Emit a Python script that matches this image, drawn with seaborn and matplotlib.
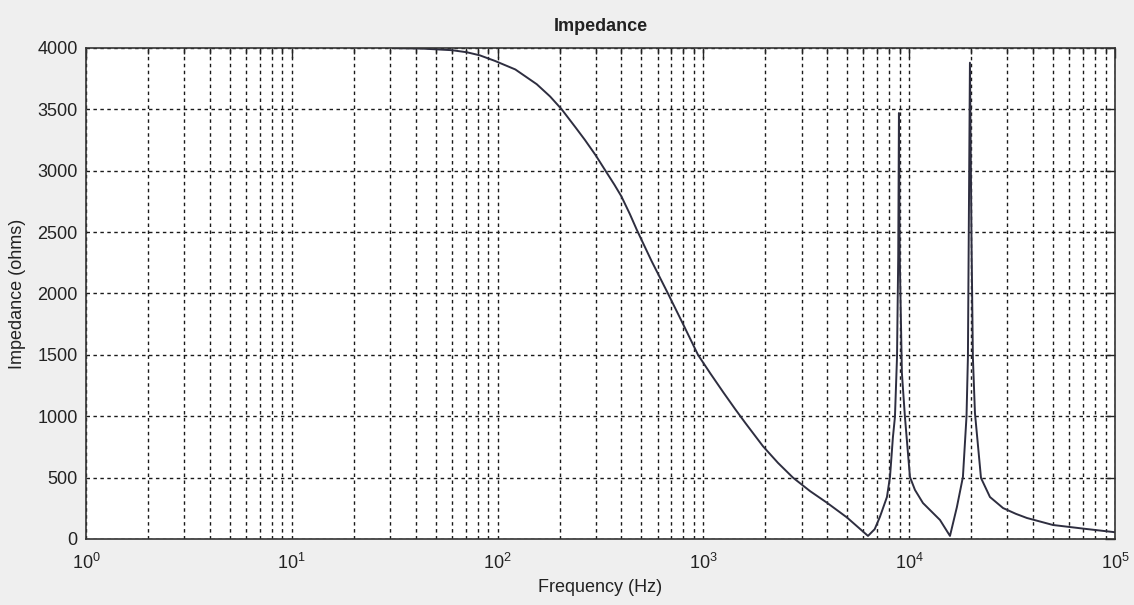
import numpy as np
import pandas as pd
import matplotlib
matplotlib.use("Agg")
import matplotlib.pyplot as plt
from matplotlib.ticker import LogLocator, LogFormatterSciNotation, NullFormatter, MultipleLocator
import seaborn as sns

# Impedance magnitude versus frequency
freq_hz = [
    31.6, 43, 60, 71, 82, 97, 122, 155, 180, 205, 240, 266, 300, 336, 370,
    400, 440, 476, 560, 673, 800, 942, 1080, 1250, 1425, 1600, 1950, 2305,
    2725, 3300, 3990, 4990, 5700, 6310, 6800, 7210, 7800, 8070, 8340, 8530,
    8730, 8850, 8920, 9000, 9220, 9540, 10090, 10670, 11670, 14120, 14930,
    15790, 17060, 18250, 19000, 19300, 19740, 20100, 20400, 20880, 22340,
    24700, 28600, 33000, 37360, 50000, 73100, 97800, 100000,
]
impedance_ohm = [
    3998, 3995, 3982, 3965, 3940, 3895, 3825, 3705, 3605, 3500, 3350, 3250,
    3125, 2995, 2885, 2790, 2645, 2515, 2265, 2000, 1745, 1500, 1350, 1195,
    1060, 945, 755, 620, 500, 390, 295, 175, 90, 25, 80, 180, 342, 505, 830,
    994, 1482, 2300, 3470, 2300, 1352, 994, 505, 400, 293, 155, 90, 25, 260,
    505, 1000, 1482, 3880, 2400, 1482, 1026, 497, 342, 252, 205, 171, 114, 81,
    57, 55,
]

x_ticks = [1, 10, 100, 1000, 10000, 100000]
y_ticks = list(range(0, 4001, 500))

df = pd.DataFrame({"Frequency (Hz)": freq_hz, "Impedance (ohms)": impedance_ohm})

sns.set_theme(style="white")
plt.rcParams["font.family"] = ["Liberation Sans", "DejaVu Sans"]
plt.rcParams["mathtext.fontset"] = "custom"
plt.rcParams["mathtext.rm"] = "Liberation Sans"
plt.rcParams["mathtext.it"] = "Liberation Sans"

fig = plt.figure(figsize=(11.34, 6.05), dpi=100, facecolor="#efefef")
ax = fig.add_axes([0.0758, 0.1091, 0.9074, 0.8116])
ax.set_facecolor("white")

sns.lineplot(data=df, x="Frequency (Hz)", y="Impedance (ohms)", ax=ax,
             estimator=None, sort=False, color="#2e2e40", linewidth=1.4)

ax.set_xscale("log")
ax.set_xlim(x_ticks[0], x_ticks[-1])
ax.set_ylim(y_ticks[0], y_ticks[-1])
ax.xaxis.set_major_locator(LogLocator(base=10, numticks=10))
ax.xaxis.set_minor_locator(LogLocator(base=10, subs=np.arange(2, 10), numticks=20))
ax.xaxis.set_major_formatter(LogFormatterSciNotation())
ax.xaxis.set_minor_formatter(NullFormatter())
ax.yaxis.set_major_locator(MultipleLocator(500))

grid_style = dict(color="#1a1a1a", linestyle=(0, (2.5, 2.5)), linewidth=1.0)
ax.grid(True, which="major", axis="both", **grid_style)
ax.grid(True, which="minor", axis="x", **grid_style)

ax.tick_params(which="both", direction="in", top=True, right=True,
               colors="#222222", labelcolor="#222222")
ax.tick_params(which="major", length=7, width=1, labelsize=13, pad=6)
ax.tick_params(axis="x", which="major", pad=10)
ax.tick_params(which="minor", length=4, width=1)

for s in ax.spines.values():
    s.set_color("#333333")
    s.set_linewidth(1.2)

ax.set_title("Impedance", fontsize=13, fontweight="bold", color="#222222", pad=12)
ax.set_xlabel("Frequency (Hz)", fontsize=13, color="#222222", labelpad=4)
ax.set_ylabel("Impedance (ohms)", fontsize=13, color="#222222", labelpad=8)

fig.savefig("out.png", dpi=100, facecolor=fig.get_facecolor())
